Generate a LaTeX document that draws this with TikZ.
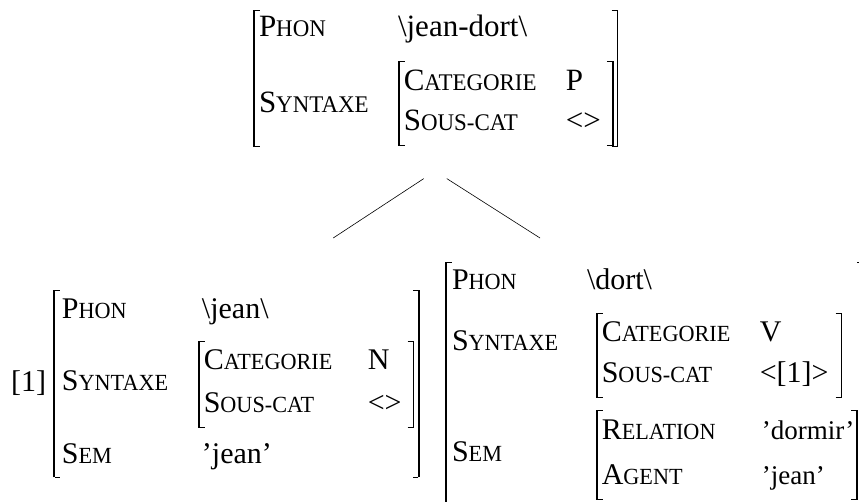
\documentclass[tikz,border=0pt]{standalone}
\usepackage{fontspec}
\setmainfont{Liberation Serif}[Ligatures=TeX]
\usepackage{graphicx}
\usepackage{array}
\usetikzlibrary{positioning}

% feature names in small capitals
\newcommand{\feat}[2]{#1\scalebox{0.74}[0.77]{#2}}
\newcommand{\bsl}{\textbackslash}

% square brackets round a feature structure
\newsavebox{\avmcontent}
\newlength{\avmht}
\newlength{\avmdp}
\newcommand{\avm}[2][3pt]{{%
	\sbox{\avmcontent}{#2}%
	\setlength{\avmht}{\dimexpr\ht\avmcontent+#1\relax}%
	\setlength{\avmdp}{\dimexpr\dp\avmcontent+#1\relax}%
	\vrule height\avmht depth\avmdp width 1.8pt%
	\rlap{\vrule height\avmht depth-\dimexpr\avmht-0.9pt\relax width 5pt}%
	\rlap{\vrule height-\dimexpr\avmdp-0.9pt\relax depth\avmdp width 5pt}%
	\usebox{\avmcontent}%
	\llap{\vrule height\avmht depth-\dimexpr\avmht-0.9pt\relax width 5pt}%
	\llap{\vrule height-\dimexpr\avmdp-0.9pt\relax depth\avmdp width 5pt}%
	\vrule height\avmht depth\avmdp width 1.8pt}}

\tikzset{
  avm/.style={inner sep=0pt, font=\fontsize{30}{35}\selectfont},
  bigavm/.style={avm, font=\fontsize{31}{36}\selectfont},
  branch/.style={draw, line width=0.6pt}
}

\begin{document}
\begin{tikzpicture}[x=1pt, y=1pt]
	\useasboundingbox (0,0) rectangle (859,501);
	% mother node
	\node [bigavm, anchor=north west] (mere) at (253,491) {\avm[1pt]{\begin{tabular}{@{\hspace{4pt}}p{139pt}@{}l@{\hspace{3pt}}}
		\feat{P}{HON} & \bsl jean-dort\bsl \\[13.5pt]
		\raisebox{-3pt}{\feat{S}{YNTAXE}} & \avm[4.5pt]{\begin{tabular}{@{\hspace{4pt}}p{162pt}@{}l@{\hspace{11pt}}}
			\feat{C}{ATEGORIE} & P \\[4pt]
			\feat{S}{OUS-CAT} & <>
		\end{tabular}}
	\end{tabular}}};
	% daughters
	\node [avm, anchor=north west] (jean) at (11,211) {\raisebox{-1pt}{[1]}\hspace{7pt}\avm[3.5pt]{\begin{tabular}{@{\hspace{7pt}}p{136pt}@{}l@{\hspace{4pt}}}
		\feat{P}{HON} & \hspace{4pt}\bsl jean\bsl \\[12pt]
		\feat{S}{YNTAXE} & \avm[4.5pt]{\begin{tabular}{@{\hspace{4pt}}p{164pt}@{}l@{\hspace{11pt}}}
			\feat{C}{ATEGORIE} & N \\[8pt]
			\feat{S}{OUS-CAT} & <>
		\end{tabular}} \\[38pt]
		\feat{S}{EM} & \hspace{4pt}'jean'
	\end{tabular}}};
	\node [avm, anchor=north west] (dort) at (445,239) {\avm[3pt]{\begin{tabular}{@{\hspace{5pt}}p{135pt}@{}l@{\hspace{4pt}}}
		\feat{P}{HON} & \bsl dort\bsl \\[12.5pt]
		\raisebox{11pt}{\feat{S}{YNTAXE}} & \hspace{9pt}\avm[4.5pt]{\begin{tabular}{@{\hspace{4pt}}p{158pt}@{}l@{\hspace{12pt}}}
			\feat{C}{ATEGORIE} & V \\[6pt]
			\feat{S}{OUS-CAT} & <[1]>
		\end{tabular}} \\[38pt]
		\feat{S}{EM} & \hspace{9pt}\avm[5pt]{\begin{tabular}{@{\hspace{4pt}}p{160pt}@{}l@{\hspace{2pt}}}
			\feat{R}{ELATION} & {\fontsize{27}{35}\selectfont 'dormir'} \\[10pt]
			\feat{A}{GENT} & {\fontsize{27}{35}\selectfont 'jean'}
		\end{tabular}}
	\end{tabular}}};
	% branches
	\draw [branch] ([xshift=-12pt,yshift=-31.7pt]mere.south) -- ([xshift=117.5pt,yshift=52pt]jean.north);
	\draw [branch] ([xshift=11pt,yshift=-31.7pt]mere.south) -- ([xshift=95pt,yshift=24pt]dort.north west);
\end{tikzpicture}
\end{document}
